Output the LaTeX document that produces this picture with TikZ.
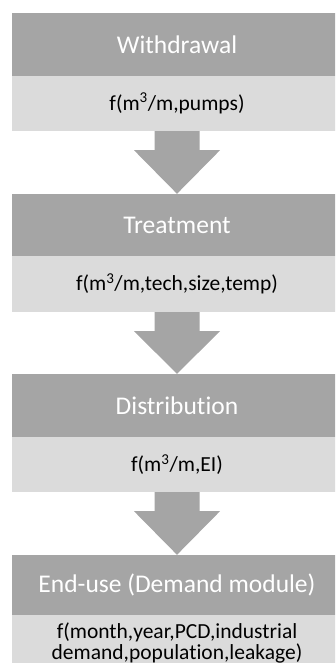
\documentclass[tikz,border=0pt]{standalone}
\usepackage{fontspec}
\setmainfont{Carlito}[Ligatures=NoCommon]
\usetikzlibrary{calc}
\definecolor{darkgr}{HTML}{A5A5A5}
\definecolor{lightgr}{HTML}{DBDBDB}
\begin{document}
\begin{tikzpicture}[x=1pt,y=1pt,
  titlebox/.style={rectangle, fill=darkgr, draw=none, minimum width=330pt, inner sep=0pt,
    text=white, font=\fontsize{25.5}{30}\selectfont},
  bodybox/.style={rectangle, fill=lightgr, draw=none, minimum width=330pt, inner sep=0pt,
    text=black, font=\fontsize{21.5}{21}\selectfont},
  bodytext/.style={inner sep=0pt, align=center, text=black, font=\fontsize{21.5}{21}\selectfont},
  flowarrow/.style={fill=darkgr, draw=none}]
\useasboundingbox (0,0) rectangle (335,-663);
\clip (0,0) rectangle (335,-663);
% stage 1
\node[titlebox, minimum height=63pt] (t1) at (177,-44.5) {Withdrawal};
\node[bodybox, minimum height=55pt] (b1) at (177,-103.5) {f(m\textsuperscript{3}/m,pumps)};
% stage 2
\node[titlebox, minimum height=62pt] (t2) at (177,-225) {Treatment};
\node[bodybox, minimum height=56pt] (b2) at (177,-284) {f(m\textsuperscript{3}/m,tech,size,temp)};
% stage 3
\node[titlebox, minimum height=63pt] (t3) at (177,-405.5) {Distribution};
\node[bodybox, minimum height=55pt] (b3) at (177,-464.5) {f(m\textsuperscript{3}/m,EI)};
% stage 4
\node[titlebox, minimum height=60pt] (t4) at (177,-585) {End-use (Demand module)};
\node[bodybox, minimum height=85pt, anchor=north] (b4) at (t4.south) {};
\node[bodytext, anchor=north] (b4txt) at ($(b4.north)+(0,-7)$) {f(month,year,PCD,industrial\\demand,population,leakage)};
% block arrows
\foreach \a/\b in {b1/t2, b2/t3, b3/t4}{
  \fill[flowarrow] ($(\a.south)+(-22.5,0)$) -- ($(\a.south)+(22.5,0)$)
     -- ($(\a.south)+(22.5,-19)$) -- ($(\a.south)+(43,-19)$)
     -- (\b.north) -- ($(\a.south)+(-43,-19)$)
     -- ($(\a.south)+(-22.5,-19)$) -- cycle;
}
\end{tikzpicture}
\end{document}
